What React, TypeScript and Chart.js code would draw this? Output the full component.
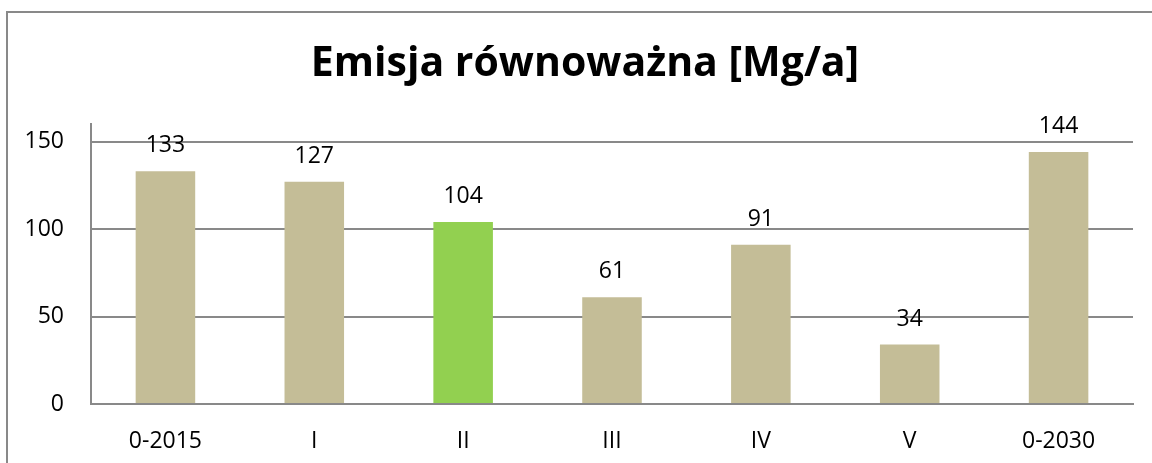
import React, { useEffect, useRef } from "react";
import { Chart, registerables } from "chart.js";

Chart.register(...registerables);

const titleText = "Emisja równoważna [Mg/a]";
const categories = ["0-2015", "I", "II", "III", "IV", "V", "0-2030"];
const values = [133, 127, 104, 61, 91, 34, 144];
const barColors = ["#C4BD97", "#C4BD97", "#92D050", "#C4BD97", "#C4BD97", "#C4BD97", "#C4BD97"];
const yTickValues = [0, 50, 100, 150];
const yMin = 0;
const yMax = 160;

const FONT = "'Open Sans', sans-serif";
const GRID = "#898989";

const valueLabels = {
  id: "valueLabels",
  afterDatasetsDraw(chart: any) {
    const ctx = chart.ctx;
    const meta = chart.getDatasetMeta(0);
    ctx.save();
    ctx.font = `23px ${FONT}`;
    ctx.fillStyle = "#000";
    ctx.textAlign = "center";
    ctx.textBaseline = "alphabetic";
    meta.data.forEach((el: any, i: number) => {
      ctx.fillText(String(values[i]), el.x, el.y - 19);
    });
    ctx.restore();
  },
};

const chartTitle = {
  id: "chartTitle",
  afterDraw(chart: any) {
    const ctx = chart.ctx;
    ctx.save();
    ctx.font = `bold 41px ${FONT}`;
    ctx.fillStyle = "#000";
    ctx.textAlign = "center";
    ctx.textBaseline = "alphabetic";
    ctx.fillText(titleText, 585, 76);
    ctx.restore();
  },
};

export default function App() {
  const ref = useRef<HTMLCanvasElement | null>(null);
  useEffect(() => {
    if (!ref.current) return;
    const chart = new Chart(ref.current, {
      type: "bar",
      data: {
        labels: categories,
        datasets: [
          {
            data: values,
            backgroundColor: barColors,
            borderWidth: 0,
            barPercentage: 0.4,
            categoryPercentage: 1.0,
          },
        ],
      },
      options: {
        responsive: false,
        animation: false,
        layout: { padding: { left: 0, right: 19, top: 124, bottom: 0 } },
        plugins: {
          legend: { display: false },
          tooltip: { enabled: false },
          title: { display: false },
        },
        scales: {
          x: {
            grid: { display: false, drawTicks: false },
            border: { display: true, color: GRID, width: 2 },
            ticks: { color: "#000", font: { family: FONT, size: 23 }, padding: 24 },
            afterFit: (s: any) => {
              s.height = 59;
            },
          },
          y: {
            min: yMin,
            max: yMax,
            grid: { color: GRID, drawTicks: false, lineWidth: 2 },
            border: { display: true, color: GRID, width: 2 },
            ticks: { stepSize: 50, color: "#000", font: { family: FONT, size: 23 }, padding: 27 },
            afterBuildTicks: (s: any) => {
              s.ticks = yTickValues.map((v) => ({ value: v }));
            },
            afterFit: (s: any) => {
              s.width = 91;
            },
          },
        },
      },
      plugins: [valueLabels, chartTitle],
    });
    return () => chart.destroy();
  }, []);

  return (
    <div
      style={{
        position: "fixed",
        left: 0,
        top: 0,
        width: 1152,
        height: 463,
        overflow: "hidden",
        background: "#fff",
      }}
    >
      <div
        style={{
          position: "absolute",
          left: 6,
          top: 11,
          width: 1200,
          height: 500,
          borderLeft: "2px solid #898989",
          borderTop: "2px solid #898989",
        }}
      />
      <canvas
        ref={ref}
        width={1152}
        height={463}
        style={{ position: "absolute", left: 0, top: 0, width: 1152, height: 463 }}
      />
    </div>
  );
}
